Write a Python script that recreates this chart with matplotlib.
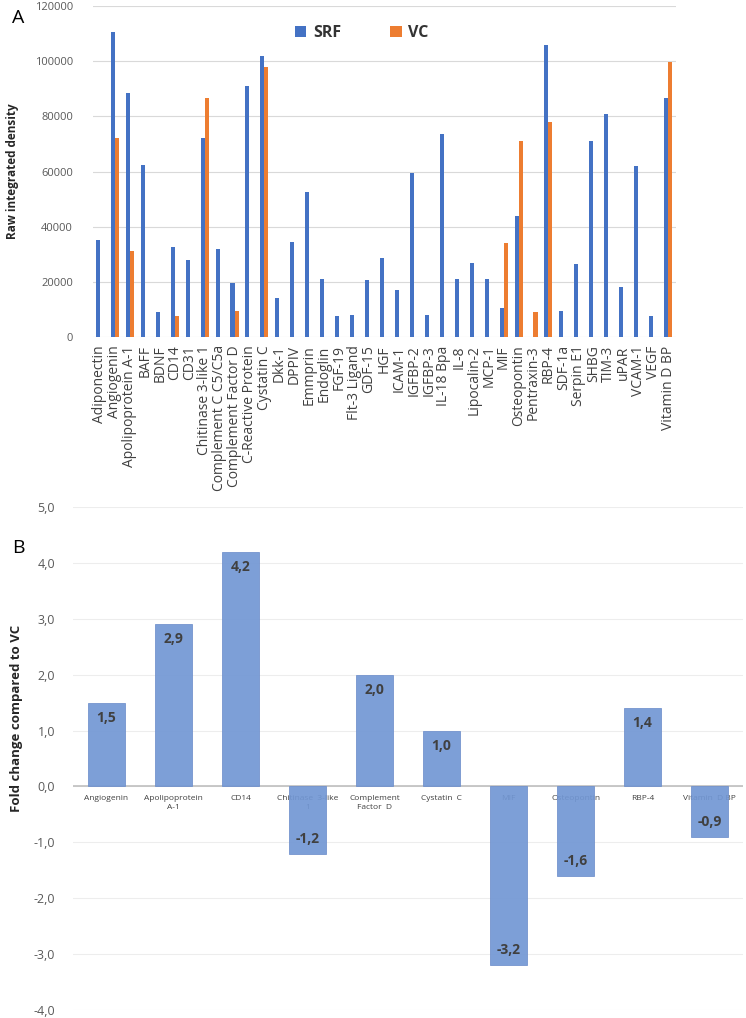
import numpy as np
import matplotlib
matplotlib.use("Agg")
import matplotlib.pyplot as plt

plt.rcParams['font.family'] = ['Open Sans', 'DejaVu Sans']

# Panel A data
proteins = ["Adiponectin", "Angiogenin", "Apolipoprotein A-1", "BAFF", "BDNF", "CD14", "CD31",
            "Chitinase 3-like 1", "Complement C C5/C5a", "Complement Factor D", "C-Reactive Protein",
            "Cystatin C", "Dkk-1", "DPPIV", "Emmprin", "Endoglin", "FGF-19", "Flt-3 Ligand", "GDF-15",
            "HGF", "ICAM-1", "IGFBP-2", "IGFBP-3", "IL-18 Bpa", "IL-8", "Lipocalin-2", "MCP-1", "MIF",
            "Osteopontin", "Pentraxin-3", "RBP-4", "SDF-1a", "Serpin E1", "SHBG", "TIM-3", "uPAR",
            "VCAM-1", "VEGF", "Vitamin D BP"]
srf = [35000, 110500, 88500, 62500, 9000, 32500, 28000, 72000, 32000, 19500, 91000, 101800, 14000,
       34300, 52500, 21000, 7500, 7800, 20500, 28500, 17000, 59600, 8000, 73500, 21000, 27000, 21000,
       10600, 44000, 0, 106000, 9500, 26500, 71000, 80800, 18200, 62000, 7500, 86800]
vc = [0, 72000, 31000, 0, 0, 7700, 0, 86500, 0, 9500, 0, 98000, 0, 0, 0, 0, 0, 0, 0, 0, 0, 0, 0, 0,
      0, 0, 0, 34200, 71000, 9000, 77800, 0, 0, 0, 0, 0, 0, 0, 99800]

# Panel B data
fc_labels = ["Angiogenin", "Apolipoprotein\nA-1", "CD14", "Chitinase  3-like\n1", "Complement\nFactor  D",
             "Cystatin  C", "MIF", "Osteopontin", "RBP-4", "Vitamin  D BP"]
fold_change = [1.5, 2.9, 4.2, -1.2, 2.0, 1.0, -3.2, -1.6, 1.4, -0.9]

W, H = 746, 1018
fig = plt.figure(figsize=(W / 100, H / 100), dpi=100)

grid_c = "#D9D9D9"
tick_c = "#595959"

# ---- panel A
axA = fig.add_axes([92.5 / W, 1 - 337 / H, 583 / W, 331 / H])
x = np.arange(len(proteins))
bw = 0.27
axA.bar(x - bw / 2, srf, width=bw, color="#4472C4", label="SRF", zorder=3)
axA.bar(x + bw / 2, vc, width=bw, color="#ED7D31", label="VC", zorder=3)
axA.set_xlim(-0.5, len(proteins) - 0.5)
axA.set_ylim(0, 120000)
axA.set_yticks(np.arange(0, 120001, 20000))
axA.yaxis.grid(True, color=grid_c, lw=0.8, zorder=0)
axA.set_axisbelow(True)
for s in axA.spines.values():
    s.set_visible(False)
axA.tick_params(axis='both', length=0)
axA.tick_params(axis='y', labelsize=8, labelcolor=tick_c, pad=14)
axA.set_xticks(x)
axA.set_xticklabels(proteins, rotation=90, fontsize=10, color="#404040")
axA.tick_params(axis='x', pad=6)
axA.set_ylabel("Raw integrated density", fontsize=8.5, fontweight="bold", color="#262626")
axA.yaxis.set_label_coords(-0.126, 0.5)
leg = axA.legend(loc="upper center", bbox_to_anchor=(0.462, 0.985), ncol=2, frameon=False,
                 fontsize=11.5, handlelength=0.7, handleheight=0.7, columnspacing=3.1,
                 handletextpad=0.4)
for t in leg.get_texts():
    t.set_fontweight("bold")
    t.set_color("#333333")
fig.text(12 / W, 1 - 18 / H, "A", fontsize=14, va="center", ha="left")

# ---- panel B
axB = fig.add_axes([73 / W, 1 - 1010 / H, 670 / W, 503 / H])
xb = np.arange(len(fc_labels))
axB.bar(xb, fold_change, width=0.55, color="#7297D4", edgecolor="#6E8FCB", lw=0.6,
        alpha=0.92, zorder=3)
axB.set_xlim(-0.5, len(fc_labels) - 0.5)
axB.set_ylim(-4, 5)
axB.set_yticks(np.arange(-4, 5.1, 1))
axB.set_yticklabels([f"{v:.1f}".replace(".", ",") for v in np.arange(-4, 5.1, 1)])
axB.yaxis.grid(True, color="#EDEDED", lw=0.8, zorder=0)
axB.axhline(0, color="#BFBFBF", lw=1.2, zorder=2)
for s in axB.spines.values():
    s.set_visible(False)
axB.tick_params(axis='both', length=0)
axB.tick_params(axis='y', labelsize=9, labelcolor=tick_c, pad=13)
axB.set_xticks([])
for i, lab in enumerate(fc_labels):
    axB.annotate(lab, (i, 0), xytext=(0, -6), textcoords="offset points", ha="center", va="top",
                 fontsize=6, color="#404040", zorder=1, linespacing=1.5)
for i, v in enumerate(fold_change):
    off = -15 if v > 0 else 15
    axB.annotate(f"{v:.1f}".replace(".", ","), (i, v), xytext=(0, off * 0.72), textcoords="offset points",
                 ha="center", va="center", fontsize=10, fontweight="bold", color="#404040", zorder=4)
axB.set_ylabel("Fold change compared to VC", fontsize=9.5, fontweight="bold", color="#262626")
axB.yaxis.set_label_coords(-0.075, 0.58)
fig.text(12 / W, 1 - 548 / H, "B", fontsize=14, va="center", ha="left")

fig.savefig("out.png", dpi=100)
